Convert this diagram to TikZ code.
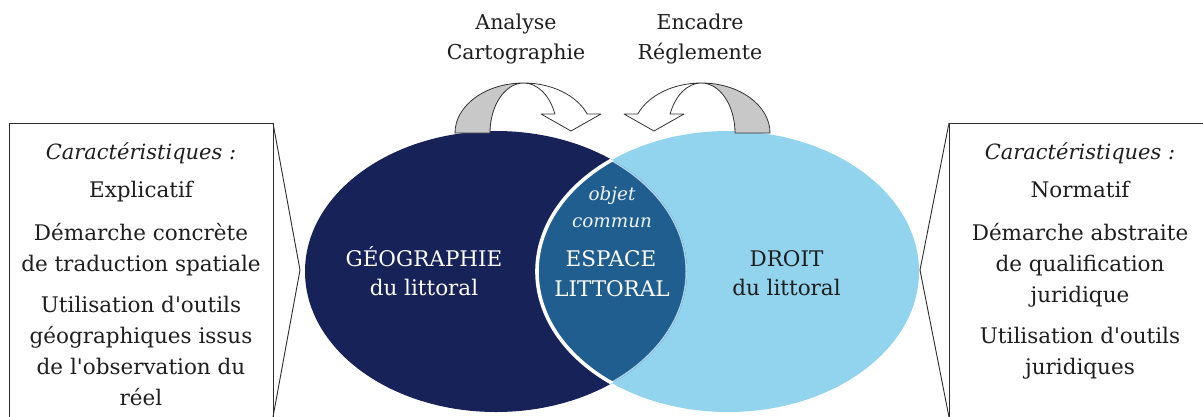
\documentclass[tikz,border=0pt]{standalone}
\usepackage{fontspec}
\setmainfont{DejaVu Serif}
\definecolor{navy}{RGB}{23,34,89}
\definecolor{skyb}{RGB}{146,212,237}
\definecolor{lensb}{RGB}{31,94,142}
\definecolor{lensedge}{RGB}{172,211,236}
\definecolor{arrowgray}{RGB}{200,200,200}
\definecolor{linegray}{RGB}{45,45,45}
\definecolor{textdark}{RGB}{30,30,30}
\begin{document}
\begin{tikzpicture}[x=1pt,y=-1pt,
  txt/.style={anchor=base,inner sep=0pt,font=\fontsize{21.5}{26}\selectfont,text=textdark},
  itxt/.style={txt,font=\fontsize{21}{26}\selectfont\itshape},
  wtxt/.style={txt,text=white},
  otxt/.style={anchor=base,inner sep=0pt,font=\fontsize{18.4}{22}\selectfont\itshape,text=white!92!lensb},
  toptxt/.style={anchor=base,inner sep=0pt,font=\fontsize{20.5}{25}\selectfont,text=textdark},
  boxline/.style={draw=linegray,line width=0.9pt},
  arrowline/.style={draw=black!80,line width=0.8pt,line join=round},
  leftell/.style={x radius=191pt,y radius=140.5pt},
  rightell/.style={x radius=191pt,y radius=140.5pt}]
\useasboundingbox (0,0) rectangle (1203,416);
\fill[white] (0,0) rectangle (1203,416);

% ellipses
\coordinate (lc) at (496,271.5);
\coordinate (rc) at (728,271.5);
\fill[navy] (lc) ellipse [leftell];
\fill[skyb] (rc) ellipse [rightell];
\begin{scope}
  \clip (lc) ellipse [leftell];
  \fill[lensb] (rc) ellipse [rightell];
  \begin{scope}
    \clip (rc) ellipse [rightell];
    \draw[lensedge,line width=3pt] (lc) ellipse [leftell];
  \end{scope}
  \draw[white,line width=3.6pt] (rc) ellipse [rightell];
\end{scope}

% curved arrows
\coordinate (at1) at (523.7,83);
\filldraw[arrowline,fill=arrowgray] (455,133) arc[start angle=180,end angle=90,x radius=68.7pt,y radius=50pt]
  arc[start angle=90,end angle=180,x radius=33.7pt,y radius=50pt] -- cycle;
\filldraw[arrowline,fill=white] (at1) arc[start angle=90,end angle=22.33,x radius=68.7pt,y radius=50pt]
  -- (601,114) -- (571,131) -- (541,114) -- (554.9,114)
  arc[start angle=22.33,end angle=90,x radius=33.7pt,y radius=50pt] -- cycle;
\coordinate (at2) at (701.3,83);
\filldraw[arrowline,fill=arrowgray] (770,133) arc[start angle=0,end angle=90,x radius=68.7pt,y radius=50pt]
  arc[start angle=90,end angle=0,x radius=33.7pt,y radius=50pt] -- cycle;
\filldraw[arrowline,fill=white] (at2) arc[start angle=90,end angle=157.67,x radius=68.7pt,y radius=50pt]
  -- (624,114) -- (654,131) -- (684,114) -- (670.1,114)
  arc[start angle=157.67,end angle=90,x radius=33.7pt,y radius=50pt] -- cycle;

% top labels
\node[toptxt] (ta1) at (516,29) {Analyse};
\node[toptxt] (ta2) at (516,59) {Cartographie};
\node[toptxt] (tb1) at (700,29) {Encadre};
\node[toptxt] (tb2) at (700,59) {Réglemente};

% ellipse labels
\node[wtxt] (g1) at (424,266) {GÉOGRAPHIE};
\node[wtxt] (g2) at (424,295) {du littoral};
\node[txt] (d1) at (786.5,266) {DROIT};
\node[txt] (d2) at (786.5,295) {du littoral};
\node[otxt] (o1) at (612,200) {objet};
\node[otxt] (o2) at (612,227) {commun};
\node[wtxt] (e1) at (611,266) {ESPACE};
\node[wtxt] (e2) at (612,296) {LITTORAL};

% left callout
\draw[boxline] (9,123) rectangle (273,419);
\draw[boxline,line join=miter] (273,123) -- (300,270) -- (273,417);
\node[itxt] (l0) at (141,159) {Caractéristiques :};
\node[txt] (l1) at (141,197) {Explicatif};
\node[txt] (l2) at (141,240) {Démarche concrète};
\node[txt] (l3) at (141,271) {de traduction spatiale};
\node[txt] (l4) at (141,312) {Utilisation d\textquotesingle outils};
\node[txt] (l5) at (141,343) {géographiques issus};
\node[txt] (l6) at (141,374) {de l\textquotesingle observation du};
\node[txt] (l7) at (141,405) {réel};

% right callout
\draw[boxline] (1215,123) -- (949,123) -- (949,419);
\draw[boxline,line join=miter] (949,123) -- (920,270) -- (949,417);
\node[itxt] (r0) at (1080,159) {Caractéristiques :};
\node[txt] (r1) at (1080,197) {Normatif};
\node[txt] (r2) at (1080,240) {Démarche abstraite};
\node[txt] (r3) at (1080,271) {de qualification};
\node[txt] (r4) at (1080,302) {juridique};
\node[txt] (r5) at (1080,343) {Utilisation d\textquotesingle outils};
\node[txt] (r6) at (1080,374) {juridiques};
\end{tikzpicture}
\end{document}
